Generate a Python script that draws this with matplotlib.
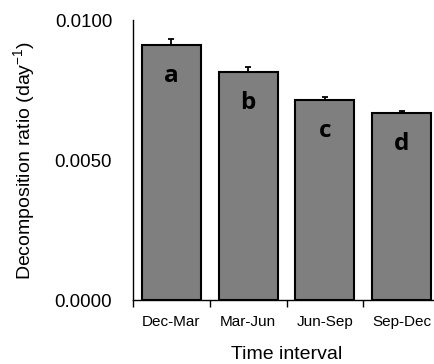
import numpy as np
import matplotlib
matplotlib.use("Agg")
import matplotlib.pyplot as plt

categories = ["Dec-Mar", "Mar-Jun", "Jun-Sep", "Sep-Dec"]
ratio = [0.00911, 0.00813, 0.00715, 0.00667]
err = [0.00020, 0.00018, 0.00010, 0.00009]
letters = ["a", "b", "c", "d"]

plt.rcParams['font.family'] = ['Liberation Sans', 'DejaVu Sans']

fig = plt.figure(figsize=(4.34, 3.64), dpi=100)
ax = fig.add_axes([0.3065, 0.1758, 0.7074, 0.769])

x = np.arange(len(categories))
ax.bar(x, ratio, width=0.77, color='#7f7f7f', edgecolor='black', linewidth=1.5,
       yerr=[np.zeros(len(err)), err], capsize=2.5,
       error_kw=dict(ecolor='black', elinewidth=1.3, capthick=1.3))

# significance letters inside the bars
for xi, v, lab in zip(x, ratio, letters):
    ax.annotate(lab, (xi, v), xytext=(0, -26.5), textcoords='offset points',
                ha='center', va='baseline', fontsize=17.5, fontweight='bold',
                family=['Open Sans', 'DejaVu Sans'])

ax.set_xlim(-0.5, 3.5)
ax.set_ylim(0, 0.01)
# labels on major ticks, the only visible tick mark (0.0050) as a minor tick
ax.set_yticks([0, 0.005, 0.01])
ax.set_yticklabels(["0.0000", "0.0050", "0.0100"], fontsize=13.4)
ax.set_yticks([0.005], minor=True)
ax.tick_params(axis='y', which='major', length=0, pad=15)
ax.tick_params(axis='y', which='minor', direction='in', length=5, width=1)

ax.set_xticks([-0.5, 0.5, 1.5, 2.5, 3.5])
ax.set_xticklabels([])
ax.set_xticks(x, minor=True)
ax.set_xticklabels(categories, minor=True, fontsize=11)
ax.tick_params(axis='x', which='major', direction='out', length=5, width=1)
ax.tick_params(axis='x', which='minor', length=0, pad=11)

for s in ['top', 'right']:
    ax.spines[s].set_visible(False)
for s in ['left', 'bottom']:
    ax.spines[s].set_linewidth(1)

ax.set_xlabel("Time interval", fontsize=14, labelpad=12)
ax.set_ylabel("Decomposition ratio (day$^{\\mathregular{-1}}$)", fontsize=14, labelpad=12)

fig.savefig("out.png", dpi=100)
